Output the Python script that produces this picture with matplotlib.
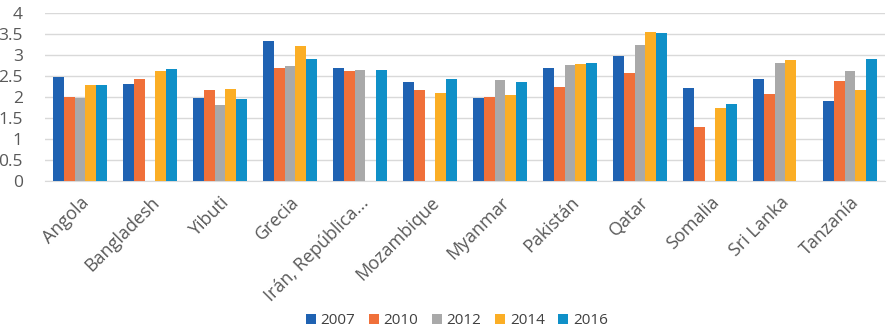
import matplotlib
matplotlib.use("Agg")
import matplotlib.pyplot as plt
import numpy as np

plt.rcParams['font.family'] = ['Open Sans', 'DejaVu Sans']

countries = ["Angola", "Bangladesh", "Yibuti", "Grecia", "Irán, República...",
             "Mozambique", "Myanmar", "Pakistán", "Qatar", "Somalia",
             "Sri Lanka", "Tanzanía"]
years = ["2007", "2010", "2012", "2014", "2016"]
nan = np.nan
v2007 = [2.48, 2.31, 1.98, 3.33, 2.68, 2.35, 1.98, 2.70, 2.98, 2.22, 2.43, 1.90]
v2010 = [2.01, 2.43, 2.16, 2.68, 2.63, 2.17, 1.99, 2.25, 2.56, 1.29, 2.07, 2.38]
v2012 = [1.98, nan, 1.82, 2.75, 2.64, nan, 2.40, 2.76, 3.24, nan, 2.80, 2.62]
v2014 = [2.29, 2.63, 2.20, 3.22, nan, 2.09, 2.05, 2.79, 3.54, 1.73, 2.88, 2.17]
v2016 = [2.29, 2.67, 1.95, 2.90, 2.64, 2.43, 2.35, 2.82, 3.52, 1.83, nan, 2.90]
series = [v2007, v2010, v2012, v2014, v2016]
colors = ["#1F62B2", "#F0703A", "#A9A9A9", "#FBAE25", "#0F90C8"]

fig = plt.figure(figsize=(8.95, 3.33), dpi=100)
ax = fig.add_axes([45 / 895, 152 / 333, 840 / 895, 168 / 333])

x = np.arange(len(countries))
w = 0.155
for i, (vals, c, yr) in enumerate(zip(series, colors, years)):
    ax.bar(x + (i - 2) * w, vals, width=w, color=c, label=yr, zorder=3)

ax.set_xlim(-0.5, len(countries) - 0.5)
ax.set_ylim(0, 4)
ax.set_yticks(np.arange(0, 4.01, 0.5))
ax.set_yticklabels(["0", "0.5", "1", "1.5", "2", "2.5", "3", "3.5", "4"])
ax.grid(axis="y", color="#D9D9D9", linewidth=1, zorder=0)
for s in ["top", "right", "left"]:
    ax.spines[s].set_visible(False)
ax.spines["bottom"].set_color("#D9D9D9")
ax.tick_params(axis="y", length=0, labelsize=12.5, labelcolor="#595959", pad=16)
ax.tick_params(axis="x", length=0, labelsize=13, labelcolor="#595959", pad=9)
ax.set_xticks(x)
ax.set_xticklabels(countries, rotation=45, ha="right", rotation_mode="anchor")

fig.legend(loc="center", bbox_to_anchor=(457 / 895, 1 - 321 / 333), ncol=5,
           frameon=False, fontsize=11, handlelength=0.65, handleheight=0.65,
           handletextpad=0.3, columnspacing=0.9, labelcolor="#404040")

fig.savefig("out.png", dpi=100)
